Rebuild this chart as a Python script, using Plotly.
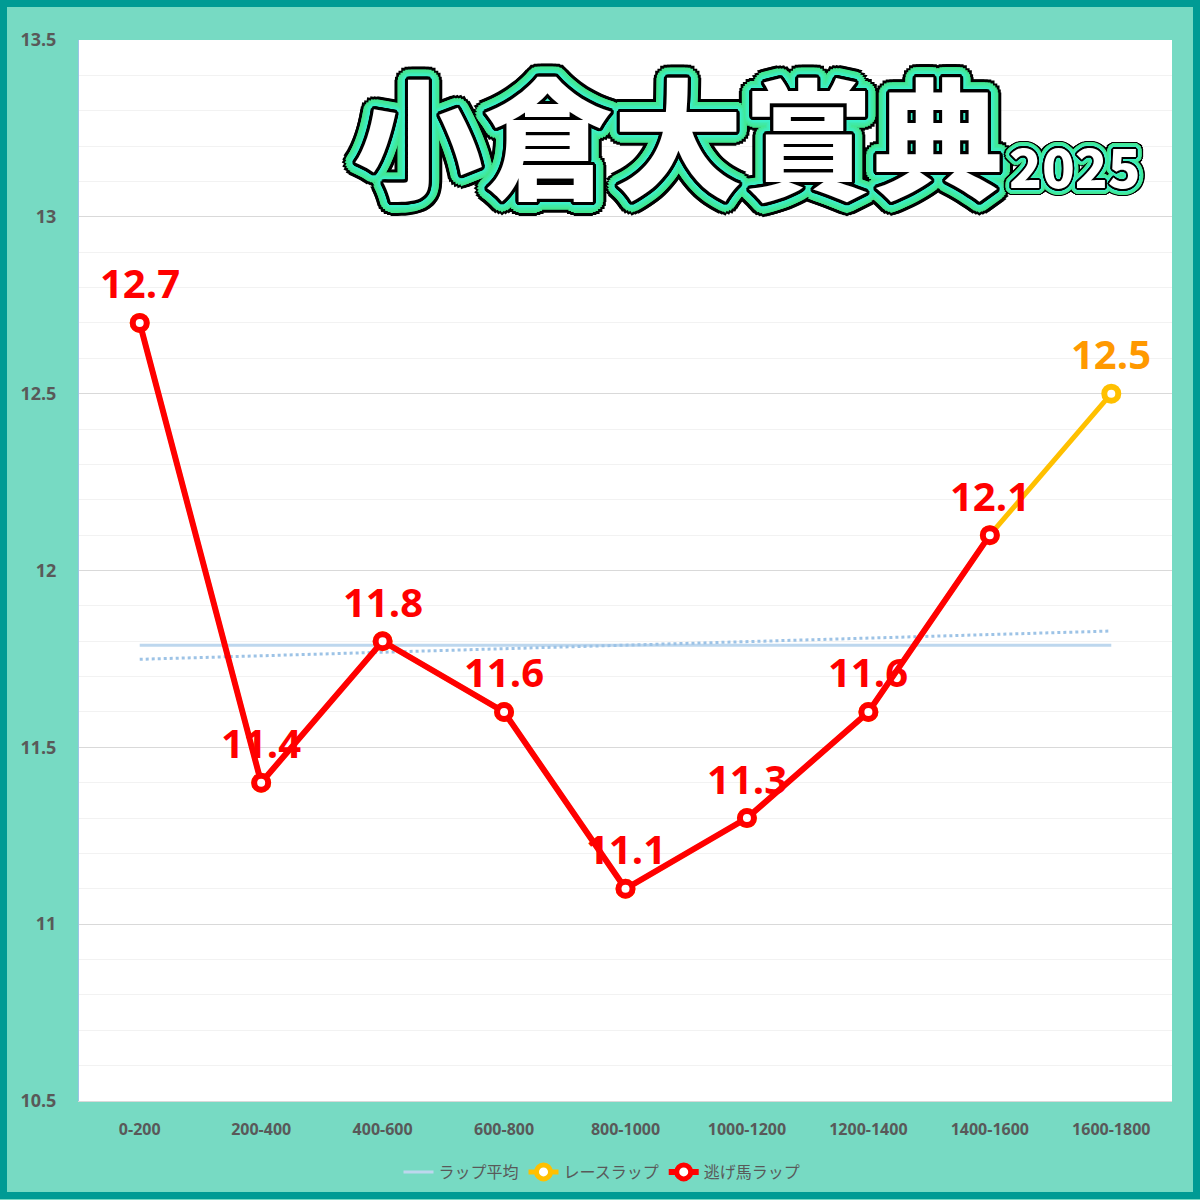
import math
import numpy as np
import plotly.graph_objects as go

# 小倉大賞典 2025 ラップ

sections = ["0-200", "200-400", "400-600", "600-800", "800-1000",
            "1000-1200", "1200-1400", "1400-1600", "1600-1800"]
race_lap = [12.7, 11.4, 11.8, 11.6, 11.1, 11.3, 11.6, 12.1, 12.5]
nige_lap = [12.7, 11.4, 11.8, 11.6, 11.1, 11.3, 11.6, 12.1, None]
y_ticks = [10.5, 11, 11.5, 12, 12.5, 13, 13.5]
title_main = "小倉大賞典"
title_year = "2025"

W, H = 1200, 1200
L, R, T, B = 79, 28, 40, 98
PW, PH = W - L - R, H - T - B


def px_x(x):
    return (x - L) / PW


def px_y(y):
    return (H - B - y) / PH


# excel style average + linear trend
avg = float(np.mean(race_lap))
idx = np.arange(len(race_lap))
slope, icpt = np.polyfit(idx, race_lap, 1)
trend = list(icpt + slope * idx)

grey = "#595959"

fig = go.Figure()
fig.add_trace(go.Scatter(x=sections, y=[avg] * len(sections), mode="lines",
                         name="ラップ平均", line=dict(color="#BDD7EE", width=3)))
fig.add_trace(go.Scatter(x=sections, y=trend, mode="lines", showlegend=False,
                         line=dict(color="#9DC3E6", width=3, dash="dot")))
fig.add_trace(go.Scatter(x=sections, y=race_lap, mode="lines+markers", name="レースラップ",
                         line=dict(color="#FFC000", width=5),
                         marker=dict(symbol="circle", size=14, color="white",
                                     line=dict(color="#FFC000", width=6))))
fig.add_trace(go.Scatter(x=sections, y=nige_lap, mode="lines+markers", name="逃げ馬ラップ",
                         line=dict(color="#FF0000", width=6),
                         marker=dict(symbol="circle", size=14, color="white",
                                     line=dict(color="#FF0000", width=6))))

# data labels
for i, s in enumerate(sections):
    if nige_lap[i] is not None:
        v, c = nige_lap[i], "#FF0000"
    else:
        v, c = race_lap[i], "#FF9900"
    fig.add_annotation(x=s, y=v, text=f"{v}", showarrow=False, yshift=40,
                       font=dict(family="Open Sans", size=40, color=c, weight="bold"))


# outlined title: white fill, black edge, green band, black outer edge
def ring(r, color, n=24):
    return [f"{r*math.cos(2*math.pi*k/n):.1f}px {r*math.sin(2*math.pi*k/n):.1f}px 0 {color}"
            for k in range(n)]


def outline(scale):
    parts = []
    for r in [1.5, 3]:
        parts += ring(r * scale, "#000000")
    for r, col in [(4.5, "#3EF0C8"), (6, "#3EEDB8"), (7.5, "#40EAA8"), (9, "#42E89A"),
                   (10.5, "#42E690")]:
        parts += ring(r * scale, col)
    for r in [12, 13.5]:
        parts += ring(r * scale, "#000000")
    return ", ".join(parts)


fig.add_annotation(xref="paper", yref="paper", x=px_x(678), y=px_y(132),
                   xanchor="center", yanchor="middle", text=title_main, showarrow=False,
                   font=dict(family="Noto Sans CJK JP", size=130, color="white", weight=900,
                             shadow=outline(1.0)))
fig.add_annotation(xref="paper", yref="paper", x=px_x(1075), y=px_y(165),
                   xanchor="center", yanchor="middle", text=title_year, showarrow=False,
                   font=dict(family="Noto Sans CJK JP", size=54, color="white", weight=900,
                             shadow=outline(0.55)))

# outer frame
fig.add_shape(type="rect", xref="paper", yref="paper",
              x0=px_x(3.5), x1=px_x(W - 3.5), y0=px_y(H - 3.5), y1=px_y(3.5),
              line=dict(color="#009B94", width=7), layer="above")

fig.update_xaxes(range=[-0.5, len(sections) - 0.5], showgrid=False, showline=True,
                 linecolor="#D9D9D9", linewidth=1, ticks="", ticklabelstandoff=14,
                 tickfont=dict(family="Open Sans", size=16, color=grey, weight="bold"))
fig.update_yaxes(range=[10.5, 13.5], tickvals=y_ticks, showline=True,
                 linecolor="#9DC3E6", linewidth=1, gridcolor="#D9D9D9", gridwidth=1,
                 minor=dict(dtick=0.1, showgrid=True, gridcolor="#F2F2F2", gridwidth=1),
                 zeroline=False, ticks="", ticklabelstandoff=18,
                 tickfont=dict(family="Open Sans", size=18, color=grey, weight="bold"))

fig.update_layout(
    width=W, height=H,
    margin=dict(l=L, r=R, t=T, b=B),
    paper_bgcolor="#77DAC3", plot_bgcolor="white",
    showlegend=True,
    legend=dict(orientation="h", x=px_x(602), xanchor="center", y=px_y(1172), yanchor="middle",
                font=dict(family="Noto Sans CJK JP", size=16, color=grey),
                bgcolor="rgba(0,0,0,0)"),
)

# drop the default 8px page margin so the figure sits at the window corner
fig.write_html("out.html", config={"displayModeBar": False},
               post_script="document.body.style.margin='0';")
